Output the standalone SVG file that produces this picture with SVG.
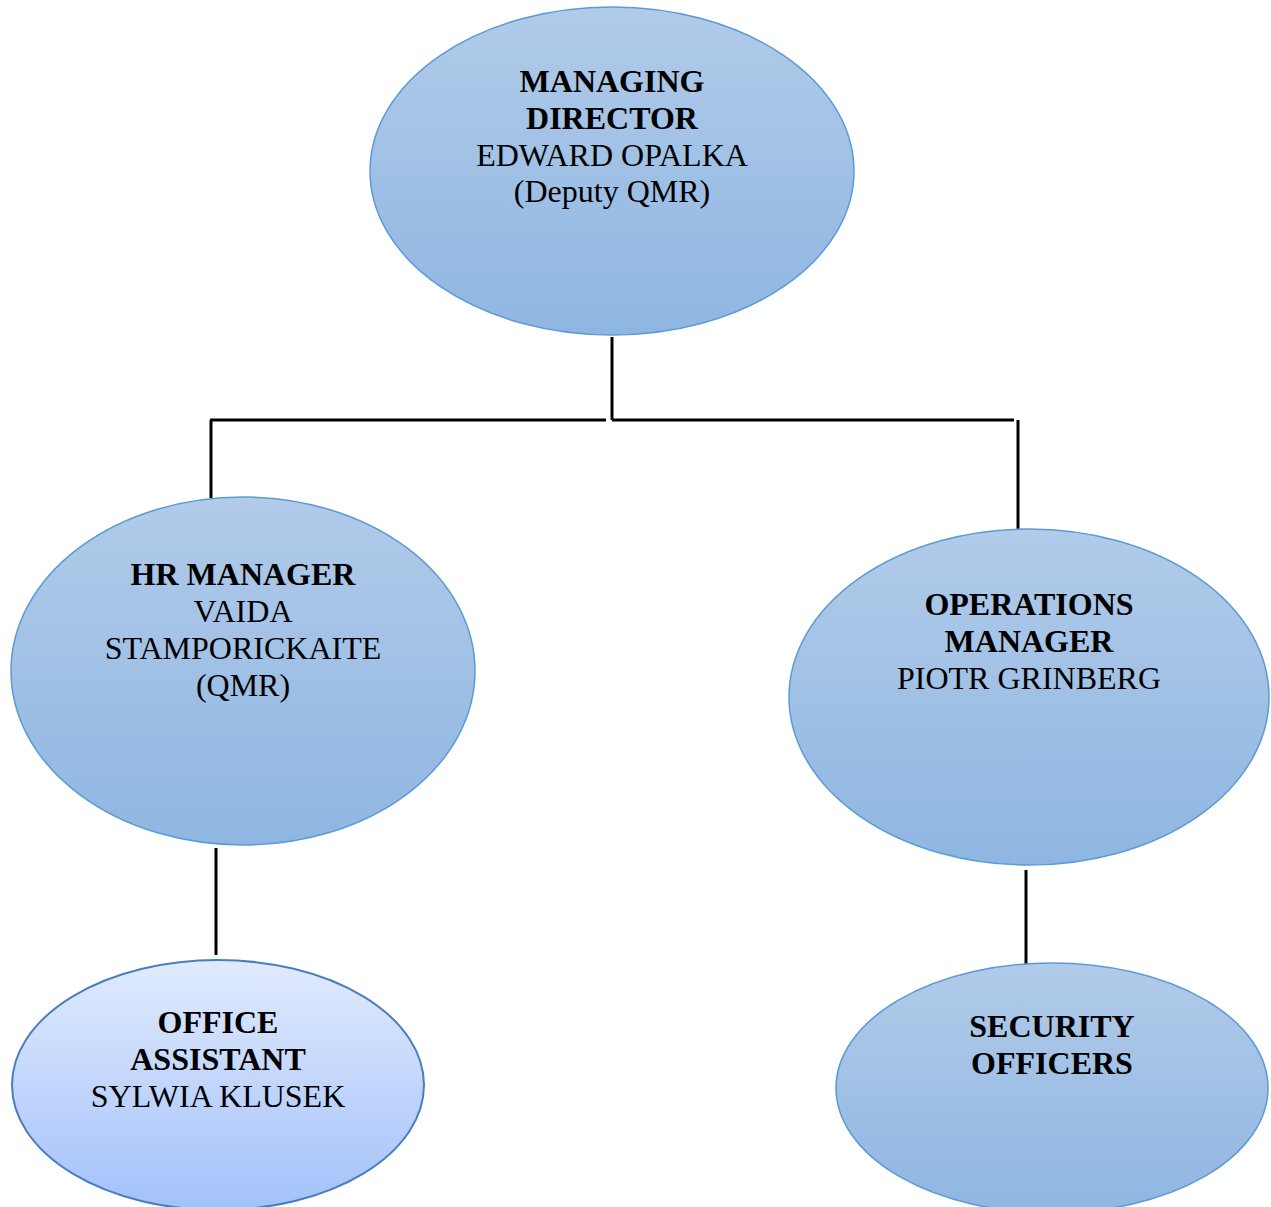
<svg xmlns="http://www.w3.org/2000/svg" width="1271" height="1207" viewBox="0 0 1271 1207">
<style>
.t{font-family:"Liberation Serif","Times New Roman",serif;font-size:32px;fill:#000;text-anchor:middle}
.b{font-weight:bold}
.n{fill:url(#g1);stroke:#5b9bd5;stroke-width:1.5}
.o{fill:url(#g2);stroke:#4a7ebb;stroke-width:2}
.c{stroke:#000;stroke-width:3;fill:none}
</style>
<defs>
<linearGradient id="g1" x1="0" y1="0" x2="0" y2="1">
<stop offset="0" stop-color="#b1cbe9"/>
<stop offset="1" stop-color="#8fb6e2"/>
</linearGradient>
<linearGradient id="g2" x1="0" y1="0" x2="0" y2="1">
<stop offset="0" stop-color="#e1ebfe"/>
<stop offset="1" stop-color="#a3c1fa"/>
</linearGradient>
</defs>
<rect width="1271" height="1207" fill="#fff"/>
<g id="connectors">
<line class="c" x1="612" y1="337" x2="612" y2="420"/>
<line class="c" x1="210" y1="420" x2="606" y2="420"/>
<line class="c" x1="612" y1="420" x2="1014" y2="420"/>
<line class="c" x1="211" y1="420" x2="211" y2="498"/>
<line class="c" x1="1018" y1="420" x2="1018" y2="531"/>
<line class="c" x1="216" y1="848" x2="216" y2="955"/>
<line class="c" x1="1026" y1="870" x2="1026" y2="968"/>
</g>
<g id="managing-director">
<ellipse class="n" cx="612" cy="171" rx="242" ry="164"/>
<text class="t b" x="612" y="92">MANAGING</text>
<text class="t b" x="612" y="129">DIRECTOR</text>
<text class="t" x="612" y="166">EDWARD OPALKA</text>
<text class="t" x="612" y="202">(Deputy QMR)</text>
</g>
<g id="hr-manager">
<ellipse class="n" cx="243" cy="671" rx="232" ry="174"/>
<text class="t b" x="243" y="585">HR MANAGER</text>
<text class="t" x="243" y="622">VAIDA</text>
<text class="t" x="243" y="659">STAMPORICKAITE</text>
<text class="t" x="243" y="696">(QMR)</text>
</g>
<g id="operations-manager">
<ellipse class="n" cx="1029" cy="697" rx="240" ry="168"/>
<text class="t b" x="1029" y="615">OPERATIONS</text>
<text class="t b" x="1029" y="652">MANAGER</text>
<text class="t" x="1029" y="689">PIOTR GRINBERG</text>
</g>
<g id="office-assistant">
<ellipse class="o" cx="218" cy="1085" rx="206" ry="125"/>
<text class="t b" x="218" y="1033">OFFICE</text>
<text class="t b" x="218" y="1070">ASSISTANT</text>
<text class="t" x="218" y="1107">SYLWIA KLUSEK</text>
</g>
<g id="security-officers">
<ellipse class="n" cx="1052" cy="1088" rx="216" ry="125"/>
<text class="t b" x="1052" y="1037">SECURITY</text>
<text class="t b" x="1052" y="1074">OFFICERS</text>
</g>
</svg>
